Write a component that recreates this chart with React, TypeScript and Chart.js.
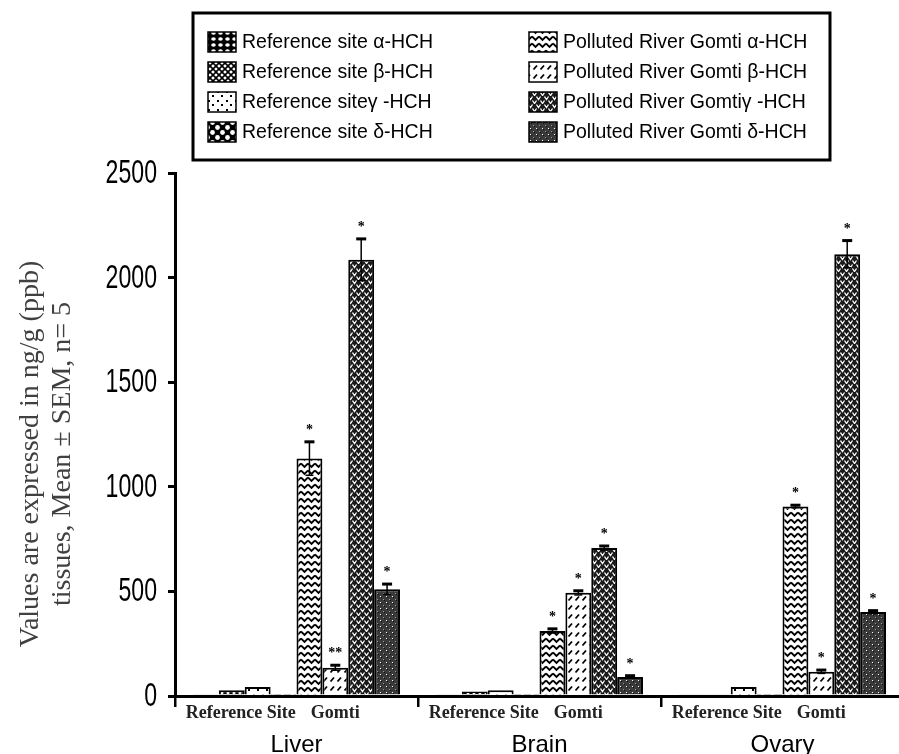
import React, { useEffect, useRef } from "react";
import { Chart, registerables } from "chart.js";

Chart.register(...registerables);

// ---------------- data ----------------
const tissues = ["Liver", "Brain", "Ovary"];
const siteLabels = ["Reference Site", "Gomti"];
const seriesNames = [
  "Reference site α-HCH",
  "Reference site β-HCH",
  "Reference siteγ -HCH",
  "Reference site δ-HCH",
  "Polluted River Gomti α-HCH",
  "Polluted River Gomti β-HCH",
  "Polluted River Gomtiγ -HCH",
  "Polluted River Gomti δ-HCH",
];
const refAlpha = [8, 8, 8];
const refBeta = [28, 22, 8];
const refGamma = [43, 28, 43];
const refDelta = [3, 3, 3];
const gomtiAlpha = [1135, 311, 906];
const gomtiBeta = [135, 493, 116];
const gomtiGamma = [2085, 707, 2112];
const gomtiDelta = [510, 91, 401];
const gomtiAlphaSem = [80, 10, 6];
const gomtiBetaSem = [12, 10, 8];
const gomtiGammaSem = [100, 10, 65];
const gomtiDeltaSem = [25, 6, 7];
const gomtiAlphaMark = ["*", "*", "*"];
const gomtiBetaMark = ["**", "*", "*"];
const gomtiGammaMark = ["*", "*", "*"];
const gomtiDeltaMark = ["*", "*", "*"];
const yTicks = [0, 500, 1000, 1500, 2000, 2500];
const yTickLabels = ["0", "500", "1000", "1500", "2000", "2500"];
const yTitleLines = ["Values are expressed in ng/g (ppb)", "tissues, Mean ± SEM, n= 5"];

const seriesValues = [refAlpha, refBeta, refGamma, refDelta, gomtiAlpha, gomtiBeta, gomtiGamma, gomtiDelta];
const gomtiSems = [gomtiAlphaSem, gomtiBetaSem, gomtiGammaSem, gomtiDeltaSem];
const gomtiMarks = [gomtiAlphaMark, gomtiBetaMark, gomtiGammaMark, gomtiDeltaMark];
const patternKinds = ["cells", "diamonds", "sparseDots", "blobs", "zigzag", "dashes", "herringbone", "darkDots"];

// ---------------- patterns ----------------
function makePattern(kind: string): any {
  const c = document.createElement("canvas");
  let w = 8, h = 8;
  if (kind === "cells") { w = 7; h = 6; }
  if (kind === "diamonds") { w = 6; h = 6; }
  if (kind === "sparseDots") { w = 9; h = 9; }
  if (kind === "blobs") { w = 10; h = 10; }
  if (kind === "zigzag") { w = 7; h = 7; }
  if (kind === "dashes") { w = 7; h = 9; }
  if (kind === "herringbone") { w = 8; h = 8; }
  if (kind === "darkDots") { w = 6; h = 6; }
  c.width = w; c.height = h;
  const g: any = c.getContext("2d");
  g.fillStyle = "#fff";
  g.fillRect(0, 0, w, h);
  g.strokeStyle = "#000";
  g.fillStyle = "#000";
  switch (kind) {
    case "cells":
      g.fillRect(0, 0, w, h);
      g.fillStyle = "#fff";
      g.beginPath();
      g.ellipse(3.5, 3, 2.3, 1.8, 0, 0, Math.PI * 2);
      g.fill();
      break;
    case "diamonds":
      g.lineWidth = 1.6;
      g.beginPath();
      g.moveTo(0, 0); g.lineTo(6, 6);
      g.moveTo(6, 0); g.lineTo(0, 6);
      g.stroke();
      break;
    case "sparseDots":
      g.fillRect(1, 1, 2, 2);
      g.fillRect(5, 5, 2, 2);
      break;
    case "blobs":
      g.fillRect(0, 0, w, h);
      g.fillStyle = "#fff";
      g.beginPath();
      g.arc(2.5, 2.5, 2.4, 0, Math.PI * 2);
      g.fill();
      g.beginPath();
      g.arc(7.5, 7.5, 2.4, 0, Math.PI * 2);
      g.fill();
      break;
    case "zigzag":
      g.lineWidth = 1.9;
      g.beginPath();
      g.moveTo(0, 1.5); g.lineTo(3.5, 5); g.lineTo(7, 1.5);
      g.stroke();
      break;
    case "dashes":
      g.lineWidth = 1.8;
      g.beginPath();
      g.moveTo(1.5, 6.5); g.lineTo(5, 2.5);
      g.stroke();
      break;
    case "herringbone":
      g.fillStyle = "#1a1a1a";
      g.fillRect(0, 0, w, h);
      g.strokeStyle = "#fff";
      g.lineWidth = 1.3;
      g.beginPath();
      g.moveTo(0.5, 0.5); g.lineTo(2.5, 3.5); g.lineTo(4.5, 0.5);
      g.moveTo(4.5, 4.5); g.lineTo(6.5, 7.5); g.lineTo(8.5, 4.5);
      g.moveTo(-3.5, 4.5); g.lineTo(-1.5, 7.5); g.lineTo(0.5, 4.5);
      g.stroke();
      break;
    case "darkDots":
      g.fillStyle = "#3a3a3a";
      g.fillRect(0, 0, w, h);
      g.fillStyle = "#111";
      g.fillRect(0, 0, 1, 1);
      g.fillRect(3, 3, 1, 1);
      g.fillStyle = "#fff";
      g.fillRect(2, 2, 1, 1);
      g.fillStyle = "#999";
      g.fillRect(5, 5, 1, 1);
      break;
  }
  return g.createPattern(c, "repeat");
}

// ---------------- overlay plugin ----------------
const overlay = {
  id: "overlay",
  afterDatasetsDraw(chart: any) {
    const ctx = chart.ctx;
    const y = chart.scales.y;
    gomtiSems.forEach((sem, k) => {
      const dsIndex = 4 + k;
      const meta = chart.getDatasetMeta(dsIndex);
      const values = chart.data.datasets[dsIndex].data;
      meta.data.forEach((bar: any, i: number) => {
        const v = values[i];
        const top = y.getPixelForValue(v + sem[i]);
        const bot = y.getPixelForValue(v - sem[i]);
        ctx.save();
        ctx.strokeStyle = "#000";
        ctx.lineWidth = 1.5;
        ctx.beginPath();
        ctx.moveTo(bar.x, top);
        ctx.lineTo(bar.x, bot);
        ctx.stroke();
        ctx.lineWidth = 3;
        ctx.beginPath();
        ctx.moveTo(bar.x - 5, top);
        ctx.lineTo(bar.x + 5, top);
        ctx.stroke();
        ctx.lineWidth = 1.5;
        ctx.beginPath();
        ctx.moveTo(bar.x - 4, bot);
        ctx.lineTo(bar.x + 4, bot);
        ctx.stroke();
        ctx.fillStyle = "#000";
        ctx.font = 'bold 14px "Liberation Serif", serif';
        ctx.textAlign = "center";
        ctx.textBaseline = "alphabetic";
        ctx.fillText(gomtiMarks[k][i], bar.x, top - 8);
        ctx.restore();
      });
    });
  },
  afterDraw(chart: any) {
    const ctx = chart.ctx;
    const x = chart.scales.x;
    const y = chart.scales.y;

    // y tick labels (condensed sans)
    ctx.save();
    ctx.fillStyle = "#000";
    yTicks.forEach((v, i) => {
      const py = y.getPixelForValue(v);
      ctx.save();
      ctx.translate(157, py);
      ctx.scale(0.7, 1);
      ctx.font = '33px "Liberation Sans", Arial, sans-serif';
      ctx.textAlign = "right";
      ctx.textBaseline = "middle";
      ctx.fillText(yTickLabels[i], 0, 1);
      ctx.restore();
    });
    ctx.restore();

    ctx.save();
    ctx.textAlign = "center";
    ctx.textBaseline = "alphabetic";
    tissues.forEach((t, i) => {
      const cx = x.getPixelForValue(i);
      ctx.font = '24px "Liberation Sans", Arial, sans-serif';
      ctx.fillStyle = "#000";
      ctx.fillText(t, cx, 752);
      const b0 = chart.getDatasetMeta(0).data[i];
      const b3 = chart.getDatasetMeta(3).data[i];
      const b4 = chart.getDatasetMeta(4).data[i];
      const b6 = chart.getDatasetMeta(6).data[i];
      ctx.font = 'bold 18px "Liberation Serif", serif';
      ctx.fillStyle = "#222";
      ctx.fillText(siteLabels[0], (b0.x + b3.x) / 2 - 4, 718);
      ctx.fillText(siteLabels[1], (b4.x + b6.x) / 2, 718);
    });
    ctx.restore();

    // y-axis title (two rotated lines)
    ctx.save();
    ctx.fillStyle = "#404040";
    ctx.font = '28px "Liberation Serif", serif';
    ctx.textAlign = "center";
    ctx.textBaseline = "middle";
    const titleX = [31, 63];
    yTitleLines.forEach((line, i) => {
      ctx.save();
      ctx.translate(titleX[i], 454);
      ctx.rotate(-Math.PI / 2);
      ctx.fillText(line, 0, 0);
      ctx.restore();
    });
    ctx.restore();

    // legend box
    ctx.save();
    ctx.strokeStyle = "#000";
    ctx.lineWidth = 3;
    ctx.strokeRect(193, 13, 637, 147);
    const datasets = chart.data.datasets;
    datasets.forEach((ds: any, i: number) => {
      const col = i < 4 ? 0 : 1;
      const row = i % 4;
      const ix = col === 0 ? 208 : 529;
      const cy = 42 + row * 30;
      ctx.fillStyle = ds.backgroundColor;
      ctx.fillRect(ix, cy - 10, 28, 20);
      ctx.lineWidth = 1.5;
      ctx.strokeStyle = "#000";
      ctx.strokeRect(ix, cy - 10, 28, 20);
      ctx.fillStyle = "#000";
      ctx.font = '19.5px "Liberation Sans", Arial, sans-serif';
      ctx.textAlign = "left";
      ctx.textBaseline = "middle";
      ctx.fillText(ds.label, ix + 34, cy + 1);
    });
    ctx.restore();
  },
};

export default function App() {
  const ref = useRef<HTMLCanvasElement | null>(null);
  useEffect(() => {
    document.documentElement.style.overflow = "hidden";
    document.body.style.overflow = "hidden";
    const canvas = ref.current;
    if (!canvas) return;
    const patterns = patternKinds.map((k) => makePattern(k));
    const chart = new Chart(canvas, {
      type: "bar",
      data: {
        labels: tissues,
        datasets: seriesValues.map((vals, i) => ({
          label: seriesNames[i],
          data: vals,
          backgroundColor: patterns[i],
          borderColor: "#000",
          borderWidth: 2,
        })),
      },
      options: {
        responsive: false,
        animation: false,
        devicePixelRatio: 1,
        layout: { padding: { top: 173, left: 0, right: 0, bottom: 0 } },
        datasets: { bar: { categoryPercentage: 0.852, barPercentage: 1 } },
        plugins: {
          legend: { display: false },
          tooltip: { enabled: false },
          title: { display: false },
        },
        scales: {
          x: {
            offset: true,
            grid: {
              display: true,
              offset: true,
              drawOnChartArea: false,
              drawTicks: true,
              tickLength: 11,
              lineWidth: 2.5,
              color: "#000",
            },
            border: { display: true, color: "#000", width: 3 },
            ticks: { display: false },
            afterFit: (s: any) => {
              s.height = 58;
            },
          },
          y: {
            min: 0,
            max: 2500,
            afterBuildTicks: (s: any) => {
              s.ticks = yTicks.map((v) => ({ value: v }));
            },
            ticks: { display: false },
            grid: {
              drawOnChartArea: false,
              drawTicks: true,
              tickLength: 7,
              lineWidth: 3,
              color: "#000",
            },
            border: { display: true, color: "#000", width: 3 },
            afterFit: (s: any) => {
              s.width = 175;
            },
          },
        },
      } as any,
      plugins: [overlay as any],
    });
    return () => chart.destroy();
  }, []);
  return (
    <div style={{ position: "absolute", left: 0, top: 0, width: 904, height: 754, overflow: "hidden", background: "#fff" }}>
      <canvas ref={ref} width={904} height={754} style={{ display: "block" }} />
    </div>
  );
}
